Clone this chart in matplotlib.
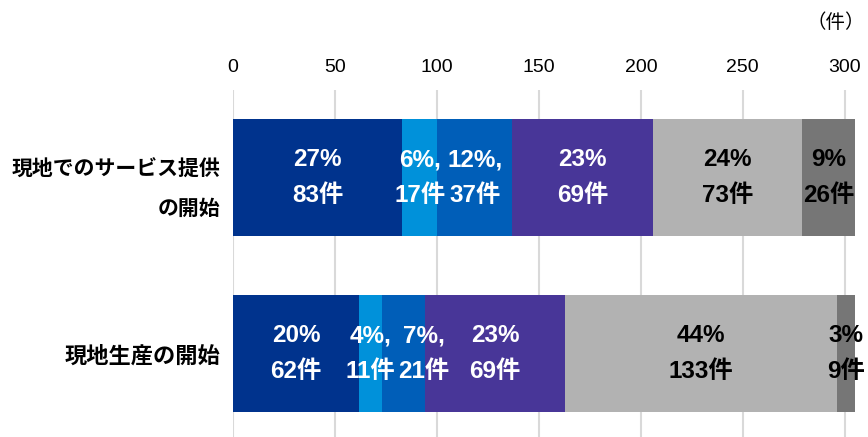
import matplotlib
matplotlib.use("Agg")
import matplotlib.pyplot as plt

plt.rcParams['font.family'] = ['Liberation Sans', 'Noto Sans CJK JP', 'DejaVu Sans']

categories = ["現地でのサービス提供\nの開始", "現地生産の開始"]
counts = [
    [83, 17, 37, 69, 73, 26],
    [62, 11, 21, 69, 133, 9],
]
percents = [
    ["27%", "6%,", "12%,", "23%", "24%", "9%"],
    ["20%", "4%,", "7%,", "23%", "44%", "3%"],
]
colors = ["#00338D", "#0091DA", "#005EB8", "#483698", "#B2B2B2", "#767676"]
text_colors = ["white", "white", "white", "white", "black", "black"]
xticks = [0, 50, 100, 150, 200, 250, 300]

fig = plt.figure(figsize=(8.68, 4.37), dpi=100)
ax = fig.add_axes([233/868, 0.0, 624/868, 1 - 90/437])

for i, row in enumerate(counts):
    left = 0
    for j, v in enumerate(row):
        ax.barh(i, v, left=left, height=0.66, color=colors[j], edgecolor='none', zorder=2)
        cx = left + v / 2
        dx = 0
        if i == 1 and j == 2:
            dx = 10
        ax.text(cx + dx, i - 0.1, percents[i][j], ha='center', va='center',
                fontsize=17.5, fontweight='bold', color=text_colors[j], zorder=3)
        ax.text(cx + dx, i + 0.1, f"{v}件", ha='center', va='center',
                fontsize=17.5, fontweight='bold', color=text_colors[j], zorder=3)
        left += v

ax.set_xlim(0, 306)
ax.set_ylim(1.474, -0.497)
ax.xaxis.tick_top()
ax.set_xticks(xticks)
ax.set_xticklabels([str(t) for t in xticks], fontsize=14)
ax.tick_params(axis='x', length=0, pad=10)
ax.set_yticks(range(len(categories)))
ax.set_yticklabels(categories, fontsize=15, fontweight='bold',
                   family=['Noto Sans CJK JP'], linespacing=2.1)
ax.get_yticklabels()[1].set_fontsize(16)
ax.tick_params(axis='y', length=0, pad=9)
ax.grid(axis='x', color='#D9D9D9', linewidth=1.5, zorder=0)
ax.set_axisbelow(True)
for s in ax.spines.values():
    s.set_visible(False)

fig.text(836/868, 1 - 22/437, "（件）", ha='center', va='center', fontsize=14,
         family=['Noto Sans CJK JP'])

fig.savefig("out.png", dpi=100)
